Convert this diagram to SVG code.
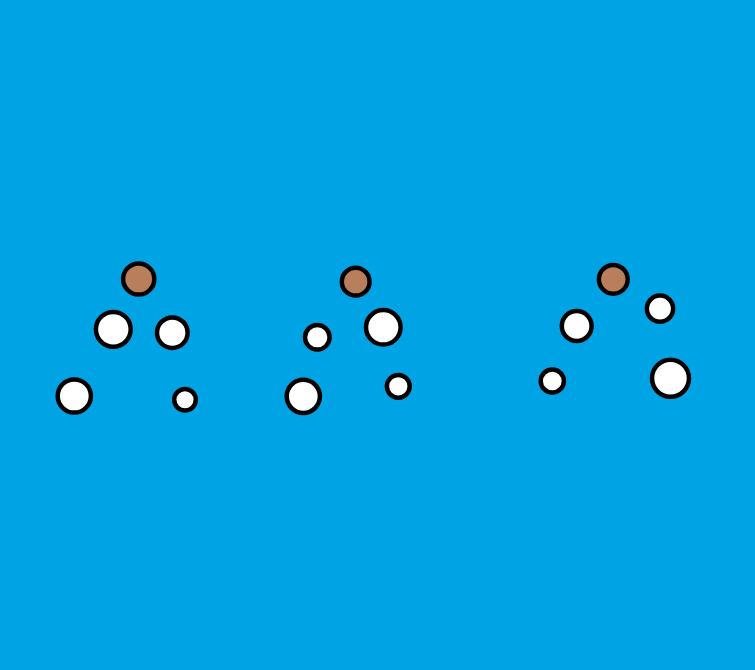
<svg xmlns="http://www.w3.org/2000/svg" width="755" height="670" viewBox="0 0 755 670">
<style>
.c{stroke:#000;stroke-width:4.5}
.w{fill:#fff}
.b{fill:#b97f5c}
</style>
<rect width="755" height="670" fill="#00a3e4"/>
<g id="group1">
<circle id="n1" class="c b" cx="138.7" cy="279" r="15.6"/>
<circle id="n2" class="c w" cx="113.3" cy="329.3" r="17.4"/>
<circle id="n3" class="c w" cx="172.3" cy="332.7" r="15.3"/>
<circle id="n4" class="c w" cx="74.3" cy="396" r="16.6"/>
<circle id="n5" class="c w" cx="185" cy="399.7" r="10.8"/>
</g>
<g id="group2">
<circle id="n6" class="c b" cx="355.7" cy="281.7" r="13.9"/>
<circle id="n7" class="c w" cx="383.3" cy="327.3" r="17.3"/>
<circle id="n8" class="c w" cx="317.3" cy="337.3" r="12.3"/>
<circle id="n9" class="c w" cx="303.3" cy="396.3" r="16.6"/>
<circle id="n10" class="c w" cx="398.3" cy="386.3" r="11.4"/>
</g>
<g id="group3">
<circle id="n11" class="c b" cx="613.3" cy="279.3" r="14.4"/>
<circle id="n12" class="c w" cx="660" cy="308.7" r="13.1"/>
<circle id="n13" class="c w" cx="576.7" cy="326" r="14.9"/>
<circle id="n14" class="c w" cx="552.3" cy="381" r="11.6"/>
<circle id="n15" class="c w" cx="670.5" cy="378.3" r="18.5"/>
</g>
<g id="connectors"></g>
</svg>
